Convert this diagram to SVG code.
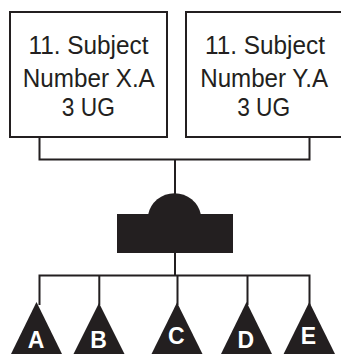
<svg xmlns="http://www.w3.org/2000/svg" width="341" height="354" viewBox="0 0 341 354">
<style>
.box{fill:#fff;stroke:#231f20;stroke-width:2}
.lbl{font-family:"Liberation Sans",Arial,sans-serif;font-size:25.5px;fill:#231f20;text-anchor:middle}
.con{stroke:#231f20;stroke-width:2;fill:none}
.solid{fill:#231f20}
.let{font-family:"Liberation Sans",Arial,sans-serif;font-weight:bold;font-size:23px;fill:#fff;text-anchor:middle}
</style>
<rect width="341" height="354" fill="#fff"/>
<g id="connectors">
<path class="con" d="M39.5,137V159.5M309.5,137V159.5M38.5,159.5H310.5M175,159.5V200M175,250V275.5M38.5,275.5H310.5M39.5,275.5V305M99.3,275.5V305M177.5,275.5V305M247.5,275.5V305M309.5,275.5V305"/>
</g>
<g id="box1">
<rect class="box" x="10" y="12" width="157" height="125"/>
<text class="lbl" x="88.5" y="54" textLength="120" lengthAdjust="spacingAndGlyphs">11. Subject</text>
<text class="lbl" x="88.8" y="87" textLength="132" lengthAdjust="spacingAndGlyphs">Number X.A</text>
<text class="lbl" x="88.3" y="115.5" textLength="53" lengthAdjust="spacingAndGlyphs">3 UG</text>
</g>
<g id="box2">
<rect class="box" x="186" y="12" width="157" height="125"/>
<text class="lbl" x="265" y="54" textLength="120" lengthAdjust="spacingAndGlyphs">11. Subject</text>
<text class="lbl" x="264.2" y="87" textLength="128" lengthAdjust="spacingAndGlyphs">Number Y.A</text>
<text class="lbl" x="263.7" y="115.5" textLength="53" lengthAdjust="spacingAndGlyphs">3 UG</text>
</g>
<g id="hub">
<path class="solid" d="M148,215A27,27 0 0 1 201,215Z"/>
<rect class="solid" x="117" y="214" width="116" height="39"/>
</g>
<g id="nodeA">
<path class="solid" d="M36.5,302L62,354H11Z"/>
<text class="let" x="36" y="348">A</text>
</g>
<g id="nodeB">
<path class="solid" d="M99,303L124.5,354H73.5Z"/>
<text class="let" x="98.5" y="348">B</text>
</g>
<g id="nodeC">
<path class="solid" d="M177,302.5L202.5,354H151.5Z"/>
<text class="let" x="176.2" y="344">C</text>
</g>
<g id="nodeD">
<path class="solid" d="M246.5,302L272,354H221Z"/>
<text class="let" x="245.8" y="348">D</text>
</g>
<g id="nodeE">
<path class="solid" d="M309.3,302L335,354H283.6Z"/>
<text class="let" x="308.3" y="344">E</text>
</g>
</svg>
